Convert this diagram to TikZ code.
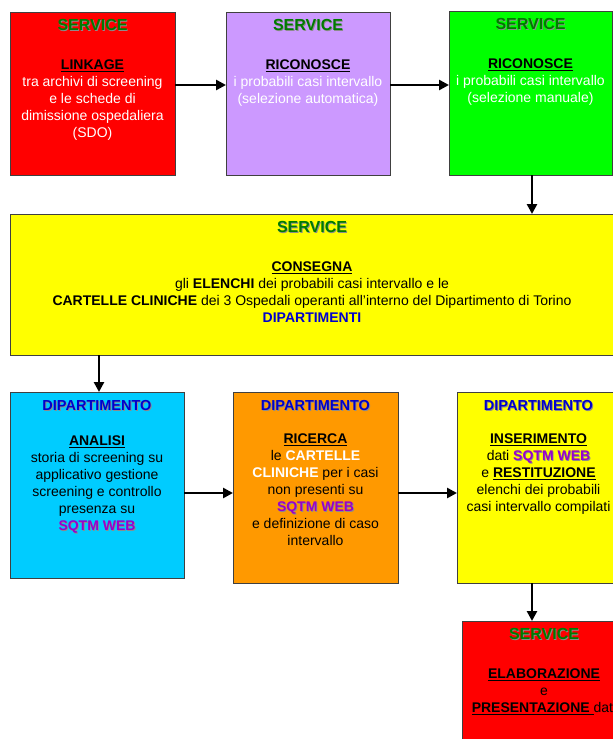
\documentclass[tikz,border=0pt]{standalone}
\usepackage{fontspec}
\setmainfont{Liberation Sans}
\usetikzlibrary{arrows.meta,calc}
\definecolor{sgreen}{HTML}{007A00}
\definecolor{dblue}{HTML}{0000CC}
\definecolor{sqtm}{HTML}{9900CC}
\definecolor{fred}{HTML}{FF0000}
\definecolor{fpurple}{HTML}{CC99FF}
\definecolor{fgreen}{HTML}{00FF00}
\definecolor{fyellow}{HTML}{FFFF00}
\definecolor{fcyan}{HTML}{00CCFF}
\definecolor{forange}{HTML}{FF9900}
\newcommand{\shd}[2]{\makebox[0pt][l]{\kern0.9pt\raisebox{-0.9pt}{\textcolor{black!45}{\textbf{#2}}}}\textcolor{#1}{\textbf{#2}}}
\newcommand{\svc}{{\fontsize{16}{17}\selectfont\shd{sgreen}{SERVICE}}}
\newcommand{\dip}{{\fontsize{14.5}{17}\selectfont\shd{dblue}{DIPARTIMENTO}}}
\newcommand{\sqtm}{\shd{sqtm}{SQTM WEB}}
\newcommand{\hd}[1]{\textcolor{black}{\underline{\textbf{#1}}}}
\begin{document}
\begin{tikzpicture}[x=1pt,y=-1pt,
  box/.style={draw=black!75, line width=0.8pt, inner sep=0pt, outer sep=0pt},
  txt/.style={anchor=north, inner sep=0pt, align=center, font=\fontsize{14}{17}\selectfont},
  arr/.style={line width=2.6pt, -{Triangle[length=10pt,width=10pt]}}]
\useasboundingbox (0,0) rectangle (613,739);
\clip (0,0) rectangle (613,739);
\fill[white] (0,0) rectangle (613,739);
% boxes
\node[box, fill=fred, minimum width=165pt, minimum height=163pt] (b1) at (92.5,93.5) {};
\node[box, fill=fpurple, minimum width=164pt, minimum height=163pt] (b2) at (308,93.5) {};
\node[box, fill=fgreen, minimum width=163pt, minimum height=164pt] (b3) at (530.5,93) {};
\node[box, fill=fyellow, minimum width=604pt, minimum height=141pt] (b4) at (312,284.5) {};
\node[box, fill=fcyan, minimum width=174pt, minimum height=186pt] (b5) at (97,485) {};
\node[box, fill=forange, minimum width=165pt, minimum height=191pt] (b6) at (315.5,487.5) {};
\node[box, fill=fyellow, minimum width=163pt, minimum height=191pt] (b7) at (538.5,487.5) {};
\node[box, fill=fred, minimum width=164pt, minimum height=139pt] (b8) at (544,690.5) {};
% texts
\node[txt, text=white] (t1) at ($(b1.north)+(0,7)$) {\svc\\[22pt]\hd{LINKAGE}\\tra archivi di screening\\e le schede di\\dimissione ospedaliera\\(SDO)};
\node[txt, text=white] (t2) at ($(b2.north)+(0,7)$) {\svc\\[22pt]\hd{RICONOSCE}\\i probabili casi intervallo\\(selezione automatica)};
\node[txt, text=white] (t3) at ($(b3.north)+(0,7)$) {\svc\\[22pt]\hd{RICONOSCE}\\i probabili casi intervallo\\(selezione manuale)};
\node[txt] (t4) at ($(b4.north)+(0,7)$) {\svc\\[22pt]\hd{CONSEGNA}\\gli \textbf{ELENCHI} dei probabili casi intervallo e le\\\textbf{CARTELLE CLINICHE} dei 3 Ospedali operanti all’interno del Dipartimento di Torino\\\textcolor{dblue}{\textbf{DIPARTIMENTI}}};
\node[txt] (t5) at ($(b5.north)+(0,8)$) {\dip\\[18pt]\hd{ANALISI}\\storia di screening su\\applicativo gestione\\screening e controllo\\presenza su\\\sqtm};
\node[txt] (t6) at ($(b6.north)+(0,8)$) {\dip\\[16pt]\hd{RICERCA}\\le \textcolor{white}{\textbf{CARTELLE}}\\\textcolor{white}{\textbf{CLINICHE}} per i casi\\non presenti su\\\sqtm\\e definizione di caso\\intervallo};
\node[txt] (t7) at ($(b7.north)+(0,8)$) {\dip\\[16pt]\hd{INSERIMENTO}\\dati \sqtm\\e \hd{RESTITUZIONE}\\elenchi dei probabili\\casi intervallo compilati};
\node[txt] (t8) at ($(b8.north)+(0,7)$) {\svc\\[22pt]\hd{ELABORAZIONE}\\e\\\hd{PRESENTAZIONE\ }dati};
% connectors
\draw[arr] (b1.east |- 0,85) -- (b2.west |- 0,85);
\draw[arr] (b2.east |- 0,85) -- (b3.west |- 0,85);
\draw[arr] (b3.south -| 532,0) -- (b4.north -| 532,0);
\draw[arr] (b4.south -| 99,0) -- (b5.north -| 99,0);
\draw[arr] (b5.east |- 0,493) -- (b6.west |- 0,493);
\draw[arr] (b6.east |- 0,493) -- (b7.west |- 0,493);
\draw[arr] (b7.south -| 532,0) -- (b8.north -| 532,0);
\end{tikzpicture}
\end{document}
